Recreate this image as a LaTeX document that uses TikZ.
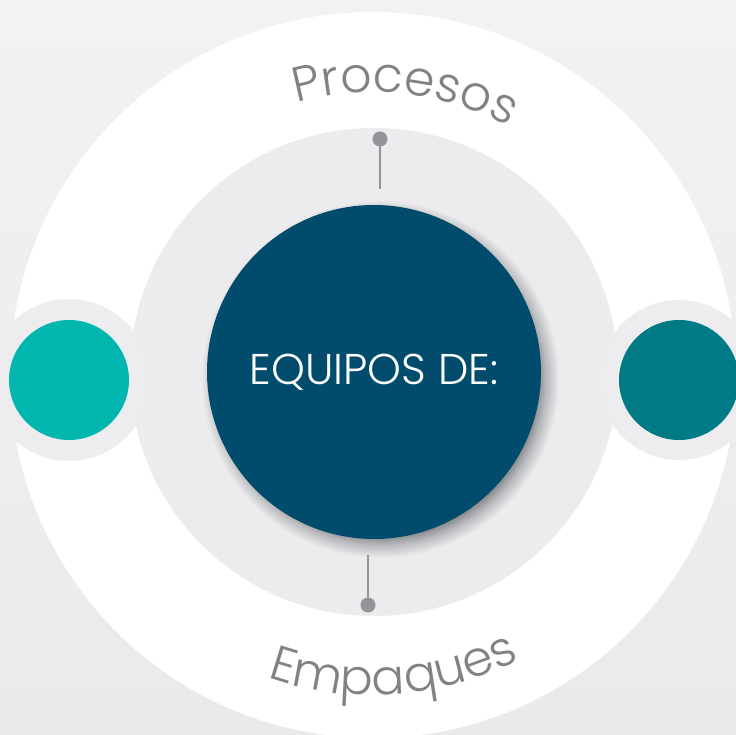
\documentclass[tikz,border=0pt]{standalone}
\usepackage{fontspec}
\setmainfont{Poppins}
\IfFontExistsTF{Poppins Light}{\newfontfamily\thinfont{Poppins Light}}{\newfontfamily\thinfont{Poppins}}
\usetikzlibrary{decorations.text}
\definecolor{bgtop}{RGB}{241,242,243}
\definecolor{bgbot}{RGB}{233,234,236}
\definecolor{ringgray}{RGB}{236,236,238}
\definecolor{halogray}{RGB}{237,237,239}
\definecolor{shadowgray}{RGB}{120,121,125}
\definecolor{shadowmid}{RGB}{185,186,189}
\definecolor{navy}{RGB}{1,76,108}
\definecolor{tealL}{RGB}{0,182,174}
\definecolor{tealR}{RGB}{0,123,133}
\definecolor{labelgray}{RGB}{128,130,133}
\definecolor{pingray}{RGB}{147,149,152}
\newcommand{\arcfont}{\thinfont\fontsize{49}{49}\selectfont}
\pgfdeclareradialshading{coreshadow}{\pgfpointorigin}{color(0bp)=(shadowgray); color(21.5bp)=(shadowgray); color(23.2bp)=(shadowmid); color(25bp)=(ringgray); color(50bp)=(ringgray)}

\begin{document}
\begin{tikzpicture}[x=1pt,y=1pt,
	disc/.style={circle,inner sep=0pt,outer sep=0pt,minimum size=#1},
	pindot/.style={circle,fill=pingray,inner sep=0pt,outer sep=0pt,minimum size=15pt},
	pinline/.style={draw=pingray,line width=2.6pt},
	arclabel/.style={decorate,decoration={text along path,text align=center,
		text color=labelgray,text={|\arcfont|#1}}}]
					\useasboundingbox (0,0) rectangle (736,734);
					\clip (0,0) rectangle (736,734);
					%BACKGROUND
					\shade[top color=bgtop,bottom color=bgbot] (0,0) rectangle (736,734);
					%RINGS
					\node[disc=726pt,fill=white] (outer) at (373,359) {};
					\node[disc=488pt,fill=ringgray] (inner) at (374,362) {};
					%SIDE DISCS
					\node[disc=162pt,fill=halogray] (haloL) at (69,354) {};
					\node[disc=120pt,fill=tealL] (dotL) at (haloL) {};
					\node[disc=160pt,fill=halogray] (haloR) at (679,354) {};
					\node[disc=120pt,fill=tealR] (dotR) at (haloR) {};
					%CENTRE
					\shade[shading=coreshadow] (380,355) circle (179);
					\node[disc=334pt,fill=navy,text=white,font=\thinfont\fontsize{43}{43}\selectfont]
						(core) at (374,362) {EQUIPOS DE:};
					%PINS
					\node[pindot] (pinTop) at (380,595) {};
					\coordinate (pinTopEnd) at (380,545);
					\draw[pinline] (pinTop) -- (pinTopEnd);
					\node[pindot] (pinBot) at (368,129) {};
					\coordinate (pinBotEnd) at (368,179);
					\draw[pinline] (pinBot) -- (pinBotEnd);
					%ARC LABELS
					\path[arclabel=Procesos] (outer.center) ++(143.5:283) arc[start angle=143.5,end angle=23.5,radius=283];
					\path[arclabel=Empaques] (outer.center) ++(214:320) arc[start angle=214,end angle=334,radius=320];
\end{tikzpicture}
\end{document}
